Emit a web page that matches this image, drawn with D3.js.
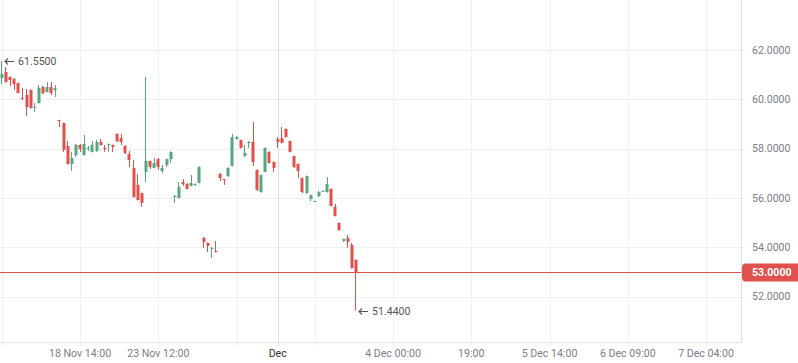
<!DOCTYPE html>
<html lang="en">
<head>
    <style>
        body { margin: 0; background: #fff; }
        svg { display: block; font-family: Roboto, "Open Sans", sans-serif; }
    </style>
</head>
<body>
    <svg width="798" height="363"></svg>
    <script src="https://cdn.jsdelivr.net/npm/d3@7/dist/d3.min.js"></script>
    <script>
        /************************************************************************************
        * Data (hourly candles, one per index)
        ************************************************************************************/
        const open = [
            60.87, 61.11, 60.91, 60.82, 60.66, 60.05, 60.18, 60.38, 59.67, 59.85,
            60.50, 60.30, 60.50, 60.38, 59.16, 59.04, 58.11, 57.38, 57.74, 58.15,
            57.74, 57.99, 57.87, 57.91, 58.27, 58.03, 58.15, 58.15, 58.60, 58.43,
            58.11, 57.78, 57.22, 56.53, 56.20, 57.06, 57.50, 57.22, 57.58, 57.10,
            57.34, 57.58, 56.04, 56.00, 56.65, 56.57, 56.49, 56.53, 56.61, 54.38,
            54.18, 53.94, 53.85, 56.97, 56.77, 56.89, 57.30, 58.39, 58.35, 57.70,
            58.23, 58.27, 57.14, 56.24, 57.06, 57.87, 57.46, 58.39, 58.43, 58.80,
            58.31, 57.70, 57.38, 56.81, 56.20, 55.96, 55.84, 56.08, 56.28, 56.24,
            56.37, 55.64, 54.99, 54.26, 54.38, 54.10, 53.49
        ];
        const high = [
            61.55, 61.31, 60.92, 60.87, 60.68, 60.46, 60.42, 60.40, 59.85, 60.58,
            60.54, 60.70, 60.70, 60.58, 59.17, 59.06, 58.31, 57.87, 58.19, 58.19,
            58.56, 58.11, 58.31, 58.35, 58.39, 58.15, 58.21, 58.17, 58.62, 58.60,
            58.15, 57.91, 57.54, 56.97, 56.22, 60.91, 57.52, 57.62, 57.62, 57.34,
            57.60, 57.89, 56.12, 56.65, 56.77, 56.61, 56.93, 56.59, 57.28, 54.42,
            54.20, 54.02, 54.26, 57.01, 56.77, 57.24, 58.60, 58.51, 58.37, 58.15,
            58.31, 59.08, 57.16, 56.95, 58.05, 57.89, 57.48, 58.47, 58.88, 58.82,
            58.33, 57.72, 57.40, 56.83, 56.91, 56.14, 55.89, 56.29, 56.31, 56.85,
            56.39, 55.76, 55.01, 54.36, 54.50, 54.18, 53.51
        ];
        const low = [
            60.62, 60.68, 60.54, 60.38, 60.24, 59.97, 59.33, 59.63, 59.49, 59.83,
            60.22, 60.28, 60.18, 60.10, 58.88, 57.87, 57.36, 57.10, 57.66, 57.87,
            57.72, 57.91, 57.85, 57.87, 58.13, 57.87, 57.87, 57.87, 58.27, 58.15,
            57.78, 57.26, 56.02, 55.90, 55.64, 56.65, 57.18, 57.20, 57.14, 57.01,
            57.26, 57.42, 55.80, 55.98, 56.49, 56.35, 56.47, 56.49, 56.59, 53.98,
            53.81, 53.57, 53.79, 56.69, 56.53, 56.85, 57.28, 58.37, 58.01, 57.68,
            58.03, 57.30, 56.29, 56.22, 57.04, 57.40, 57.06, 58.03, 58.21, 58.45,
            57.85, 57.22, 56.81, 56.20, 56.16, 55.88, 55.83, 56.04, 56.27, 56.22,
            55.66, 55.25, 54.68, 54.22, 53.98, 53.14, 51.44
        ];
        const close = [
            61.03, 60.70, 60.78, 60.62, 60.26, 60.01, 59.69, 59.65, 59.70, 60.46,
            60.26, 60.50, 60.26, 60.46, 59.12, 57.95, 57.38, 57.62, 58.15, 57.99,
            58.19, 58.03, 58.15, 58.27, 58.15, 57.99, 58.19, 58.07, 58.31, 58.27,
            57.83, 57.54, 56.04, 55.92, 55.80, 57.50, 57.26, 57.42, 57.26, 57.22,
            57.58, 57.87, 56.08, 56.45, 56.57, 56.37, 56.61, 56.57, 57.26, 54.22,
            54.06, 53.98, 53.81, 56.81, 56.73, 57.22, 58.47, 58.47, 58.03, 57.83,
            58.27, 57.46, 56.33, 56.93, 58.03, 57.42, 57.22, 58.27, 58.23, 58.47,
            57.87, 57.26, 57.10, 56.24, 56.89, 56.12, 55.88, 56.24, 56.29, 56.57,
            55.68, 55.27, 54.70, 54.34, 54.22, 53.16, 53.00
        ];

        // time axis: bar index of each grid line, and its label ("" = line only)
        const tickIndex = [0, 19, 38, 57, 67, 76, 95, 114, 133, 152, 171];
        const tickLabels = ["", "18 Nov 14:00", "23 Nov 12:00", "", "Dec", "", "4 Dec 00:00", "19:00", "5 Dec 14:00", "6 Dec 09:00", "7 Dec 04:00"];
        const monthTick = "Dec";

        const priceTicks = [52, 54, 56, 58, 60, 62];

        const candles = open.map((o, i) => ({ i, o, h: high[i], l: low[i], c: close[i] }));

        /************************************************************************************
        * Layout & scales
        ************************************************************************************/
        const svg = d3.select("svg");
        const plotW = 741, plotH = 342;

        const upColor = "#56a77f";
        const downColor = "#e0514e";
        const gridColor = "#eef0f3";
        const labelColor = "#7b7e87";

        const x = d3.scaleLinear().domain([-0.44, 179.5]).range([0, plotW]);
        const y = d3.scaleLinear().domain([52, 62]).range([296.7, 50]);

        const crisp = v => Math.round(v) + 0.5;

        /************************************************************************************
        * Grid
        ************************************************************************************/
        const grid = svg.append("g");
        grid.selectAll(".hgrid").data(priceTicks).enter()
            .append("line")
            .attr("x1", 0).attr("x2", plotW + 4)
            .attr("y1", d => crisp(y(d))).attr("y2", d => crisp(y(d)))
            .attr("stroke", gridColor);

        grid.selectAll(".vgrid").data(tickIndex).enter()
            .append("line")
            .attr("x1", d => crisp(x(d))).attr("x2", d => crisp(x(d)))
            .attr("y1", 0).attr("y2", plotH + 4)
            .attr("stroke", (d, k) => tickLabels[k] === monthTick ? "#dcdee2" : gridColor);

        // plot border (right & bottom)
        svg.append("line").attr("x1", plotW + 0.5).attr("x2", plotW + 0.5)
            .attr("y1", 0).attr("y2", plotH + 0.5).attr("stroke", "#dcdee2");
        svg.append("line").attr("x1", 0).attr("x2", plotW + 0.5)
            .attr("y1", plotH + 0.5).attr("y2", plotH + 0.5).attr("stroke", "#e3e5e8");

        /************************************************************************************
        * Axis labels
        ************************************************************************************/
        svg.append("g").selectAll("text").data(priceTicks).enter()
            .append("text")
            .attr("x", 752).attr("y", d => y(d))
            .attr("dy", "0.35em")
            .attr("font-size", 10.6)
            .attr("fill", labelColor)
            .text(d => d.toFixed(4));

        svg.append("g").selectAll("text").data(tickIndex).enter()
            .append("text")
            .attr("x", d => x(d)).attr("y", 357)
            .attr("text-anchor", "middle")
            .attr("font-size", 10.6)
            .attr("fill", (d, k) => tickLabels[k] === monthTick ? "#333" : labelColor)
            .text((d, k) => tickLabels[k]);

        /************************************************************************************
        * Candles
        ************************************************************************************/
        const bars = svg.append("g").selectAll("g").data(candles).enter().append("g")
            .attr("fill", d => d.c >= d.o ? upColor : downColor)
            .attr("stroke", d => d.c >= d.o ? upColor : downColor);

        bars.append("line")
            .attr("x1", d => crisp(x(d.i) - 0.5)).attr("x2", d => crisp(x(d.i) - 0.5))
            .attr("y1", d => y(d.h)).attr("y2", d => y(d.l));

        bars.append("rect")
            .attr("stroke", "none")
            .attr("x", d => Math.round(x(d.i)) - 1.5)
            .attr("width", 3)
            .attr("y", d => y(Math.max(d.o, d.c)))
            .attr("height", d => Math.max(1, Math.abs(y(d.o) - y(d.c))));

        /************************************************************************************
        * Last price line & high / low markers
        ************************************************************************************/
        const last = close[close.length - 1];
        svg.append("line")
            .attr("x1", 0).attr("x2", plotW)
            .attr("y1", crisp(y(last))).attr("y2", crisp(y(last)))
            .attr("stroke", downColor);

        const badgeY = crisp(y(last));
        svg.append("path")
            .attr("d", `M${plotW + 5},${badgeY - 9} H798 V${badgeY + 9} H${plotW + 5} Q${plotW + 1},${badgeY + 9} ${plotW + 1},${badgeY + 5} V${badgeY - 5} Q${plotW + 1},${badgeY - 9} ${plotW + 5},${badgeY - 9} Z`)
            .attr("fill", downColor);
        svg.append("text")
            .attr("x", 752).attr("y", badgeY)
            .attr("dy", "0.35em")
            .attr("font-size", 10.6).attr("font-weight", "bold")
            .attr("fill", "#fff")
            .text(last.toFixed(4));

        // arrow + value next to the highest high and lowest low
        const hiIdx = d3.maxIndex(high), loIdx = d3.minIndex(low);
        [[hiIdx, high[hiIdx]], [loIdx, low[loIdx]]].forEach(([i, v]) => {
            const ax = Math.round(x(i)) + 3, ay = crisp(y(v));
            svg.append("path")
                .attr("d", `M${ax + 9},${ay} H${ax} M${ax + 3},${ay - 3} L${ax},${ay} L${ax + 3},${ay + 3}`)
                .attr("fill", "none")
                .attr("stroke", "#555")
                .attr("stroke-width", 1.1);
            svg.append("text")
                .attr("x", ax + 13).attr("y", ay)
                .attr("dy", "0.35em")
                .attr("font-size", 10.6)
                .attr("fill", "#555")
                .text(v.toFixed(4));
        });
    </script>
</body>
</html>
